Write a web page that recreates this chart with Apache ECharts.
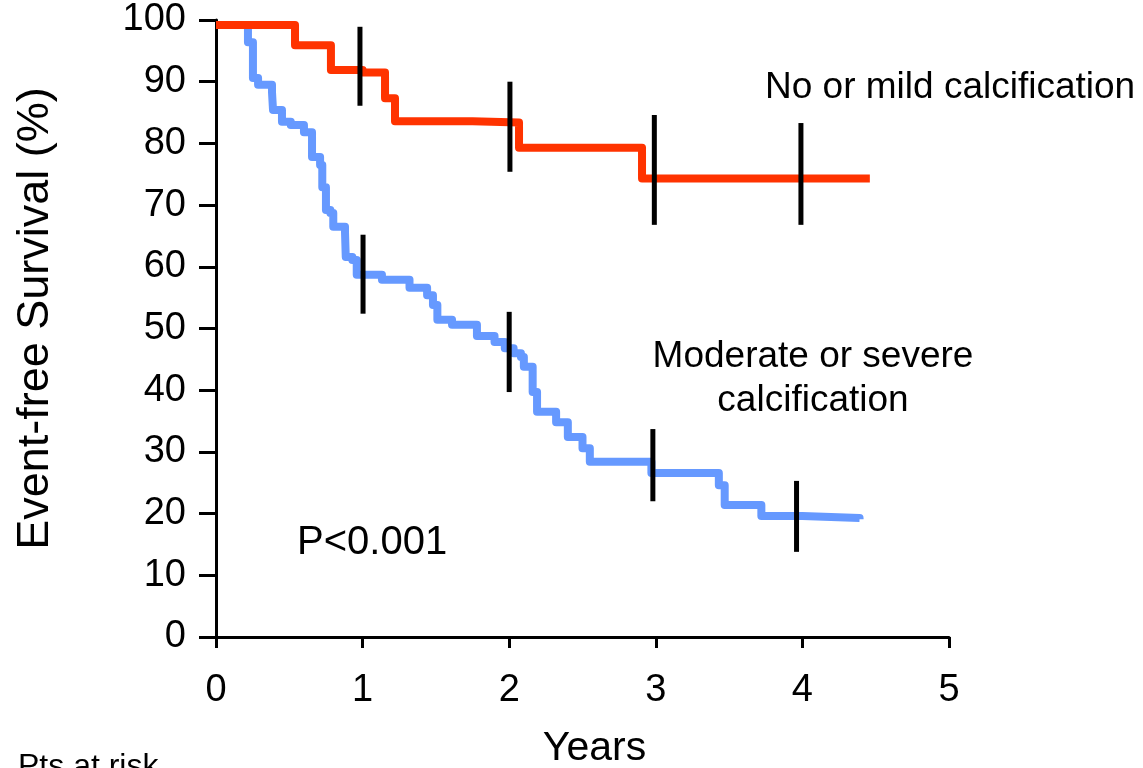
<!DOCTYPE html>
<html>
<head>
<meta charset="utf-8">
<script src="https://cdn.jsdelivr.net/npm/echarts@6/dist/echarts.min.js"></script>
<style>html,body{margin:0;padding:0;background:#fff}#c{width:1143px;height:768px}</style>
</head>
<body>
<div id="c"></div>
<script>
// Red: No or mild calcification (time in years, event-free survival %)
var redT = [0, 0.539, 0.784, 1.0, 1.153, 1.221, 1.75, 2.067, 2.906, 4.46];
var redS = [99.2, 95.9, 91.9, 91.5, 87.3, 83.6, 83.4, 79.3, 74.3, 74.2];
// Blue: Moderate or severe calcification
var blueT = [0, 0.218, 0.252, 0.287, 0.382, 0.389, 0.45, 0.51, 0.60, 0.655, 0.71, 0.725, 0.75, 0.78, 0.80, 0.88, 0.885, 0.93, 0.96, 1.132, 1.32, 1.44, 1.48, 1.51, 1.61, 1.78, 1.90, 1.97, 2.03, 2.08, 2.10, 2.16, 2.19, 2.32, 2.40, 2.50, 2.55, 2.97, 3.43, 3.47, 3.72, 4.0, 4.39];
var blueS = [99.2, 96.4, 90.6, 89.5, 88.3, 85.4, 83.5, 83.0, 81.8, 77.8, 76.5, 72.9, 69.2, 68.7, 66.5, 65.6, 61.6, 61.1, 58.7, 57.9, 56.6, 55.4, 53.8, 51.4, 50.6, 48.8, 47.8, 46.8, 46.0, 45.4, 43.8, 39.7, 36.5, 34.8, 32.4, 30.6, 28.4, 26.6, 24.6, 21.4, 19.6, 19.3, 19.1];
// Black vertical markers (time, top %, bottom %)
var markRedT = [0.982, 2.005, 2.99, 3.99];
var markRedTop = [98.9, 90.0, 84.6, 83.3];
var markRedBot = [86.1, 75.4, 66.8, 66.8];
var markBlueT = [1.003, 2.0, 2.98, 3.96];
var markBlueTop = [65.2, 52.7, 33.7, 25.3];
var markBlueBot = [52.4, 39.7, 22.0, 13.8];
// Axis ticks
var xTicks = [0, 1, 2, 3, 4, 5];
var yTicks = [0, 10, 20, 30, 40, 50, 60, 70, 80, 90, 100];

function zip(a, b) { return a.map(function (v, i) { return [v, b[i]]; }); }
function zip3(a, b, c) { return a.map(function (v, i) { return [v, b[i], c[i]]; }); }

var FONT = '"Liberation Sans", Arial, sans-serif';
var chart = echarts.init(document.getElementById('c'), null, {renderer: 'canvas'});

function markRender(params, api) {
  var p1 = api.coord([api.value(0), api.value(1)]);
  var p2 = api.coord([api.value(0), api.value(2)]);
  return {type: 'line', shape: {x1: p1[0], y1: p1[1], x2: p2[0], y2: p2[1]},
    style: {stroke: '#000', lineWidth: 5}};
}

chart.setOption({
  animation: false,
  backgroundColor: '#fff',
  grid: {left: 216, right: 194, top: 20, bottom: 131, containLabel: false, outerBoundsMode: 'none'},
  xAxis: {
    type: 'value', min: xTicks[0], max: xTicks[xTicks.length - 1], interval: 1,
    name: 'Years', nameLocation: 'middle', nameGap: 91,
    nameTextStyle: {fontFamily: FONT, fontSize: 41, color: '#000', padding: [0, 0, 0, 24]},
    axisLine: {show: true, onZero: false, lineStyle: {color: '#000', width: 3}},
    axisTick: {show: true, length: 11, lineStyle: {color: '#000', width: 3}},
    axisLabel: {fontFamily: FONT, fontSize: 38, color: '#000', margin: 35},
    splitLine: {show: false}
  },
  yAxis: {
    type: 'value', min: yTicks[0], max: yTicks[yTicks.length - 1], interval: 10,
    name: 'Event-free Survival (%)', nameLocation: 'middle', nameGap: 158,
    nameTextStyle: {fontFamily: FONT, fontSize: 45, color: '#000', padding: [0, 0, 0, 20]},
    axisLine: {show: true, onZero: false, lineStyle: {color: '#000', width: 3}},
    axisTick: {show: true, length: 17, lineStyle: {color: '#000', width: 3}},
    axisLabel: {fontFamily: FONT, fontSize: 38, color: '#000', margin: 30},
    splitLine: {show: false}
  },
  series: [
    {type: 'line', name: 'Moderate or severe calcification', data: zip(blueT, blueS), step: 'end',
      showSymbol: false, symbol: 'none', z: 2,
      lineStyle: {color: '#6699ff', width: 8, join: 'round'}},
    {type: 'line', name: 'No or mild calcification', data: zip(redT, redS), step: 'end',
      showSymbol: false, symbol: 'none', z: 3,
      lineStyle: {color: '#ff3300', width: 8, join: 'round'}},
    {type: 'custom', data: zip3(markRedT, markRedTop, markRedBot), renderItem: markRender, z: 5,
      encode: {x: 0, y: [1, 2]}},
    {type: 'custom', data: zip3(markBlueT, markBlueTop, markBlueBot), renderItem: markRender, z: 5,
      encode: {x: 0, y: [1, 2]}}
  ],
  graphic: [
    {type: 'text', x: 765, y: 88, style: {text: 'No or mild calcification', font: '37px ' + FONT, fill: '#000', textAlign: 'left', textVerticalAlign: 'middle'}},
    {type: 'text', x: 813, y: 357, style: {text: 'Moderate or severe', font: '37px ' + FONT, fill: '#000', textAlign: 'center', textVerticalAlign: 'middle'}},
    {type: 'text', x: 813, y: 401, style: {text: 'calcification', font: '37px ' + FONT, fill: '#000', textAlign: 'center', textVerticalAlign: 'middle'}},
    {type: 'text', x: 297, y: 543, style: {text: 'P<0.001', font: '40px ' + FONT, fill: '#000', textAlign: 'left', textVerticalAlign: 'middle'}},
    {type: 'text', x: 18, y: 751, style: {text: 'Pts at risk', font: '32px ' + FONT, fill: '#000', textAlign: 'left', textVerticalAlign: 'top'}}
  ]
});
</script>
</body>
</html>
